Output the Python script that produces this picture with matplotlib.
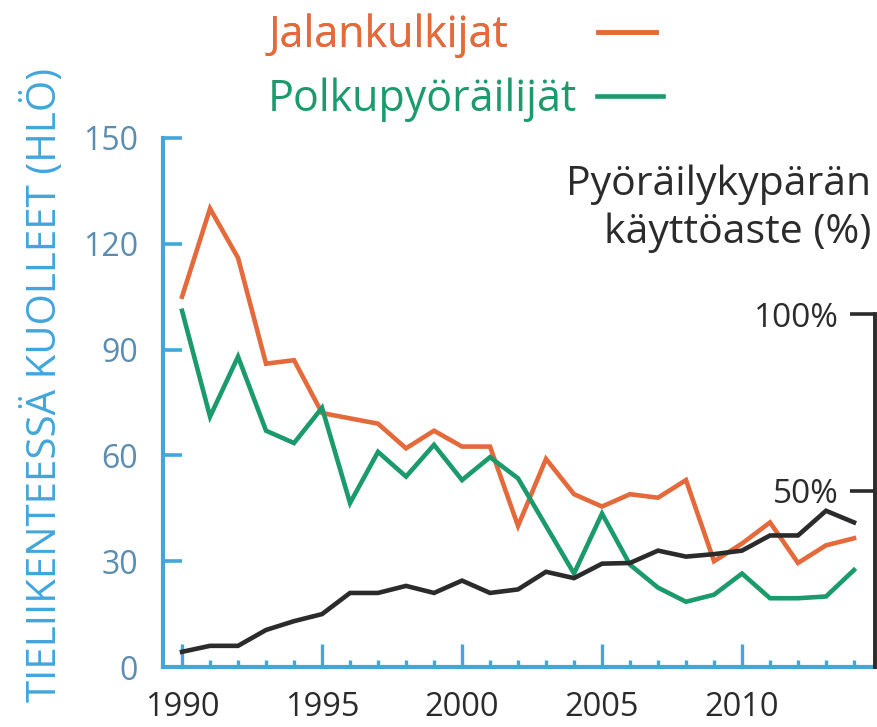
import matplotlib
matplotlib.use("Agg")
import matplotlib.pyplot as plt
from matplotlib.ticker import MultipleLocator

plt.rcParams['font.family'] = ['Open Sans', 'DejaVu Sans']

years = list(range(1990, 2015))
pedestrians = [105, 130, 116, 86, 87, 72, 70.5, 69, 62, 67, 62.5, 62.5, 40, 59, 49,
               45.5, 49, 48, 53, 30, 35, 41, 29.5, 34.5, 36.5]
cyclists = [101, 71, 88, 67, 63.5, 73.5, 46.5, 61, 54, 63, 53, 59.5, 53.5, 40, 26.5,
            43.5, 29, 22.5, 18.5, 20.5, 26.5, 19.5, 19.5, 20, 27.5]
helmet_pct = [4.3, 6, 6, 10.5, 13, 15, 21, 21, 23, 21, 24.5, 21, 22, 27, 25.2,
              29.3, 29.5, 33, 31.3, 32, 33, 37.3, 37.3, 44.3, 41]

left_ticks = [0, 30, 60, 90, 120, 150]
right_ticks = [50, 100]
right_tick_labels = ['50%', '100%']
x_major = [1990, 1995, 2000, 2005, 2010]

ORANGE = '#E46A3C'
GREEN = '#1B9A6C'
BLUE = '#42A6DB'
TICKBLUE = '#5A8DB0'
DARK = '#2B2B2B'

fig = plt.figure(figsize=(8.78, 7.27), dpi=100)
W, H = 878, 727
ax = fig.add_axes([163 / W, (H - 667) / H, (875 - 163) / W, (667 - 138) / H])

l1, = ax.plot(years, pedestrians, color=ORANGE, lw=3.3, solid_joinstyle='miter',
              label='Jalankulkijat')
l2, = ax.plot(years, cyclists, color=GREEN, lw=3.3, solid_joinstyle='miter',
              label='Polkupyöräilijät')

ax.set_xlim(1989.32, 2014.75)
ax.set_ylim(0, 150)
ax.set_yticks(left_ticks)
ax.set_xticks(x_major)
ax.xaxis.set_minor_locator(MultipleLocator(1))
for s in ['top', 'right']:
    ax.spines[s].set_visible(False)
for s in ['left', 'bottom']:
    ax.spines[s].set_color(BLUE)
    ax.spines[s].set_linewidth(3)
ax.tick_params(axis='y', direction='in', length=14, width=2.6, color=BLUE,
               labelcolor=TICKBLUE, labelsize=23, pad=18)
ax.tick_params(axis='x', which='major', direction='in', length=16.5, width=2.4,
               color=BLUE, labelcolor=DARK, labelsize=23.5, pad=17)
ax.tick_params(axis='x', which='minor', direction='in', length=5, width=2.4,
               color=BLUE)

ax.set_ylabel('TIELIIKENTEESSÄ KUOLLEET (HLÖ)', color=BLUE, fontsize=29,
              va='center')
ax.yaxis.set_label_coords((44 - 163) / (875 - 163), (667 - 385) / (667 - 138))

ax2 = ax.twinx()
ax2.plot(years, helmet_pct, color=DARK, lw=3.3, solid_joinstyle='miter')
ax2.set_ylim(0, 150)
ax2.set_yticks(right_ticks)
ax2.set_yticklabels(right_tick_labels)
for s in ['top', 'left', 'bottom']:
    ax2.spines[s].set_visible(False)
ax2.spines['right'].set_bounds(0, 100)
ax2.spines['right'].set_color(DARK)
ax2.spines['right'].set_linewidth(2.8)
ax2.tick_params(axis='y', direction='in', length=18, width=2.6, color=DARK,
                labelcolor=DARK, labelsize=24, pad=-26)
for lab in ax2.get_yticklabels():
    lab.set_horizontalalignment('right')

fig.text(871 / W, 1 - 209 / H, 'Pyöräilykypärän\nkäyttöaste (%)', ha='right',
         va='center', multialignment='right', fontsize=29.5, color=DARK,
         linespacing=1.25)

leg1 = fig.legend(handles=[l1], loc='center left',
                  bbox_to_anchor=(268 / W, 1 - 36 / H), bbox_transform=fig.transFigure,
                  frameon=False, markerfirst=False, fontsize=31, labelcolor=ORANGE,
                  handlelength=1.35, handletextpad=2.1, borderpad=0, borderaxespad=0)
leg2 = fig.legend(handles=[l2], loc='center left',
                  bbox_to_anchor=(268 / W, 1 - 100 / H), bbox_transform=fig.transFigure,
                  frameon=False, markerfirst=False, fontsize=31, labelcolor=GREEN,
                  handlelength=1.55, handletextpad=0.45, borderpad=0, borderaxespad=0)
fig.add_artist(leg1)

fig.savefig('out.png', dpi=100)
